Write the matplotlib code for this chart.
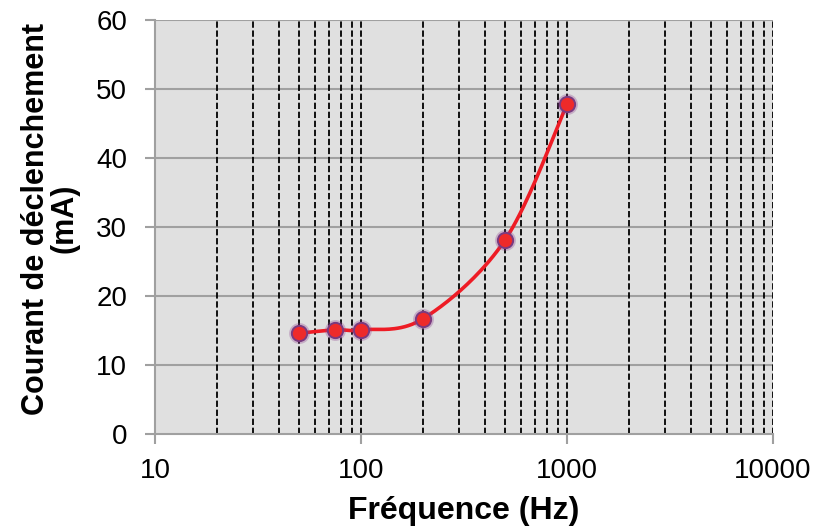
import numpy as np
import matplotlib
matplotlib.use("Agg")
import matplotlib.pyplot as plt
from matplotlib.ticker import FixedLocator, NullFormatter

plt.rcParams['font.family'] = ['Liberation Sans', 'DejaVu Sans']

# values
freq_hz = [50, 75, 100, 200, 500, 1000]
current_ma = [14.6, 15.1, 15.1, 16.7, 28.1, 47.8]
x_ticks = [10, 100, 1000, 10000]
y_ticks = [0, 10, 20, 30, 40, 50, 60]


# Excel-like smoothed line: Catmull-Rom through the points, in pixel-ish space
def smooth(xs, ys, n=40):
    px = np.log10(xs) * 206.0
    py = np.asarray(ys, float) * 6.9
    P = np.column_stack([px, py])
    P = np.vstack([P[0], P, P[-1]])
    out = []
    for i in range(1, len(P) - 2):
        p0, p1, p2, p3 = P[i - 1], P[i], P[i + 1], P[i + 2]
        t = np.linspace(0, 1, n)[:, None]
        c1 = p1 + (p2 - p0) / 6.0
        c2 = p2 - (p3 - p1) / 6.0
        seg = ((1 - t) ** 3) * p1 + 3 * ((1 - t) ** 2) * t * c1 + 3 * (1 - t) * t ** 2 * c2 + t ** 3 * p2
        out.append(seg)
    out = np.vstack(out)
    return 10 ** (out[:, 0] / 206.0), out[:, 1] / 6.9


fig = plt.figure(figsize=(8.14, 5.30), dpi=100)
ax = fig.add_axes([0.1904, 0.1811, 0.7592, 0.7812])
ax.set_facecolor('#e0e0e0')
ax.set_xscale('log')
ax.set_xlim(10, 10000)
ax.set_ylim(0, 60)

# gridlines
for y in y_ticks[1:]:
    ax.axhline(y, color='#a0a0a0', lw=1.5, zorder=1)
minors = [m * 10 ** e for e in range(1, 4) for m in range(2, 10)] + [100, 1000, 10000]
for xv in minors:
    ax.axvline(xv, color='black', lw=1.3, ls=(0, (3.5, 1.5)), zorder=1)

sx, sy = smooth(freq_hz, current_ma)
ax.plot(sx, sy, color='#ee1c25', lw=2.6, zorder=3, solid_capstyle='round')
ax.plot(freq_hz, current_ma, 'o', ms=15, color='#8a3c8c', alpha=0.3, mew=0, zorder=4)
ax.plot(freq_hz, current_ma, 'o', ms=11, mfc='#ee2a2a', mec='#7a3a80', mew=1.4, zorder=5)

for s in ['top', 'right']:
    ax.spines[s].set_visible(False)
for s in ['left', 'bottom']:
    ax.spines[s].set_color('#a0a0a0')
    ax.spines[s].set_linewidth(1.5)

ax.xaxis.set_major_locator(FixedLocator(x_ticks))
ax.xaxis.set_minor_locator(FixedLocator([]))
ax.xaxis.set_minor_formatter(NullFormatter())
ax.set_xticklabels([str(v) for v in x_ticks])
ax.set_yticks(y_ticks)
ax.tick_params(axis='both', direction='out', length=7, width=1.5, color='#a0a0a0',
               labelsize=20, labelcolor='black')
ax.tick_params(axis='x', pad=10)
ax.tick_params(axis='y', pad=13)

ax.set_xlabel('Fréquence (Hz)', fontsize=23, fontweight='bold', labelpad=9)
ax.set_ylabel('Courant de déclenchement\n(mA)', fontsize=22, fontweight='bold',
              linespacing=0.95)
ax.yaxis.set_label_coords(-0.122, 0.52)

fig.savefig('out.png', dpi=100)
